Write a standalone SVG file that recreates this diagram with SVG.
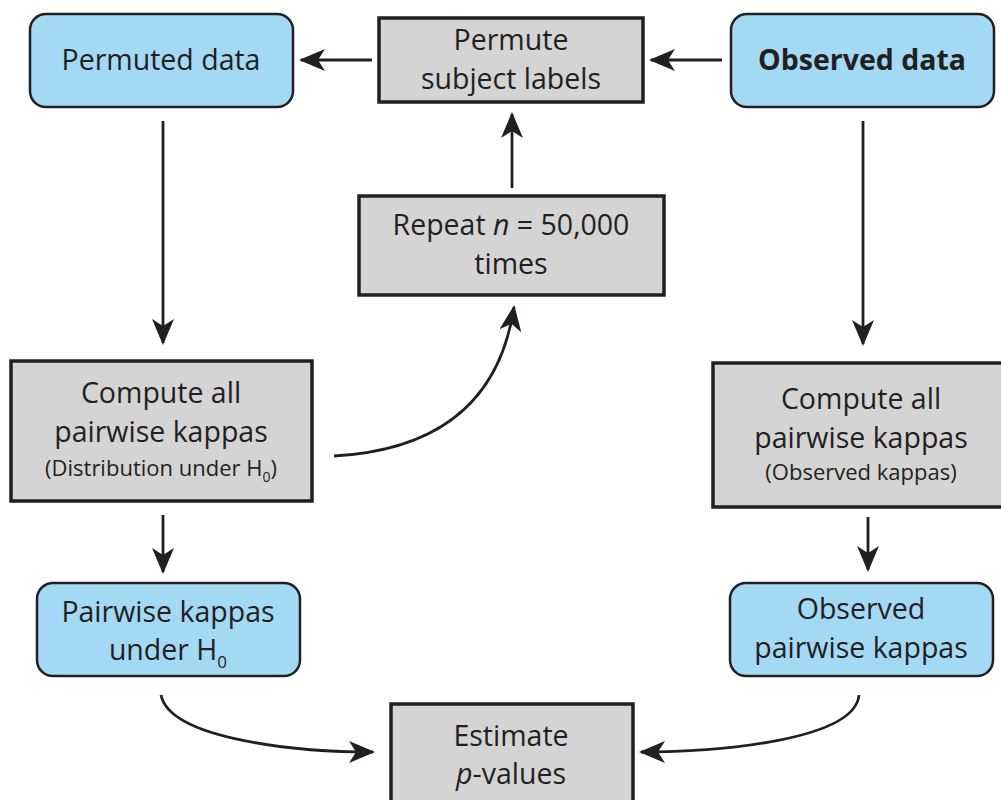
<svg xmlns="http://www.w3.org/2000/svg" width="1001" height="800" viewBox="0 0 1001 800">
<defs>
<marker id="ah" viewBox="0 0 26 22" refX="24" refY="11" markerWidth="26" markerHeight="22" markerUnits="userSpaceOnUse" orient="auto">
<path d="M0,0 L26,11 L0,22 L7,11 Z" fill="#231f20"/>
</marker>
<style>
.blue{fill:#a3d9f5;stroke:#231f20;stroke-width:2.5}
.gray{fill:#d4d4d4;stroke:#231f20;stroke-width:3.5}
.t{font-family:"Open Sans","Noto Sans",sans-serif;font-size:28.5px;fill:#231f20;text-anchor:middle}
.s{font-size:22px}
.b{font-weight:bold}
.c{fill:none;stroke:#231f20;stroke-width:2.8}
</style>
</defs>
<rect width="1001" height="800" fill="#ffffff"/>
<g id="permuted-data">
<rect class="blue" x="30" y="14" width="263" height="93" rx="16"/>
<text class="t" x="161" y="70">Permuted data</text>
</g>
<g id="permute-labels">
<rect class="gray" x="379" y="18" width="264" height="84"/>
<text class="t" x="511" y="50">Permute</text>
<text class="t" x="511" y="89">subject labels</text>
</g>
<g id="observed-data">
<rect class="blue" x="731" y="14" width="263" height="93" rx="16"/>
<text class="t b" x="862" y="70">Observed data</text>
</g>
<g id="repeat">
<rect class="gray" x="359" y="196" width="305" height="99"/>
<text class="t" x="511" y="235">Repeat <tspan font-style="italic">n</tspan> = 50,000</text>
<text class="t" x="511" y="274">times</text>
</g>
<g id="compute-h0">
<rect class="gray" x="11" y="361" width="301" height="140"/>
<text class="t" x="161" y="403">Compute all</text>
<text class="t" x="161" y="442">pairwise kappas</text>
<text class="t s" x="161" y="476">(Distribution under H<tspan font-size="14" dy="6">0</tspan><tspan dy="-6">)</tspan></text>
</g>
<g id="compute-obs">
<rect class="gray" x="713" y="363" width="300" height="144"/>
<text class="t" x="861" y="409">Compute all</text>
<text class="t" x="861" y="448">pairwise kappas</text>
<text class="t s" x="861" y="480">(Observed kappas)</text>
</g>
<g id="kappas-h0">
<rect class="blue" x="37" y="583" width="263" height="93" rx="16"/>
<text class="t" x="168" y="622">Pairwise kappas</text>
<text class="t" x="168" y="660">under H<tspan font-size="17" dy="8">0</tspan></text>
</g>
<g id="kappas-obs">
<rect class="blue" x="730" y="583" width="263" height="93" rx="16"/>
<text class="t" x="861" y="619">Observed</text>
<text class="t" x="861" y="658">pairwise kappas</text>
</g>
<g id="estimate">
<rect class="gray" x="391" y="704" width="242" height="110"/>
<text class="t" x="511" y="746">Estimate</text>
<text class="t" x="511" y="784"><tspan font-style="italic">p</tspan>-values</text>
</g>
<g id="connectors">
<line class="c" x1="372" y1="60" x2="301" y2="60" marker-end="url(#ah)"/>
<line class="c" x1="722" y1="60" x2="651" y2="60" marker-end="url(#ah)"/>
<line class="c" x1="512" y1="188" x2="512" y2="114" marker-end="url(#ah)"/>
<line class="c" x1="163" y1="121" x2="163" y2="343" marker-end="url(#ah)"/>
<line class="c" x1="863" y1="121" x2="863" y2="344" marker-end="url(#ah)"/>
<line class="c" x1="163" y1="515" x2="163" y2="572" marker-end="url(#ah)"/>
<line class="c" x1="868" y1="517" x2="868" y2="570" marker-end="url(#ah)"/>
<path class="c" d="M334,456 C440,450 500,400 514,307" marker-end="url(#ah)"/>
<path class="c" d="M161,695 C170,740 300,752 373,752" marker-end="url(#ah)"/>
<path class="c" d="M859,695 C855,740 720,752 641,752" marker-end="url(#ah)"/>
</g>
</svg>
